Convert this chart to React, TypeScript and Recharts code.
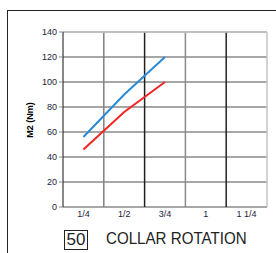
import React from 'react';
import { LineChart, Line, XAxis, YAxis, CartesianGrid, ReferenceLine } from 'recharts';

// collar rotation categories (turns)
const categories = ['1/4', '1/2', '3/4', '1', '1 1/4'];
const blueValues = [56, 90, 120];
const redValues = [46, 76, 100];
const yTicks = [0, 20, 40, 60, 80, 100, 120, 140];

// points sit in the middle of each band, gridlines on the band edges
const data = blueValues.map((b, i) => ({ x: i + 0.5, blue: b, red: redValues[i] }));
const bandEdges = categories.map((_, i) => i + 1);
const bandMiddles = categories.map((_, i) => i + 0.5);
const edgeColors = ['#808080', '#222222', '#8a8a8a', '#222222', '#c4c4c4'];

const tickStyle = { fontSize: 9, fill: '#1c1c3c', fontFamily: 'Arial, Liberation Sans, sans-serif' };

export default function App() {
  return (
    <div style={{ position: 'absolute', left: 0, top: 0, width: 276, height: 253, background: '#fff', overflow: 'hidden' }}>
      <div style={{ position: 'absolute', left: 7, top: 10, width: 276, height: 1, background: '#222' }} />
      <div style={{ position: 'absolute', left: 7, top: 10, width: 1, height: 260, background: '#222' }} />
      <LineChart
        width={276}
        height={253}
        data={data}
        margin={{ top: 32, right: 9, left: 33, bottom: 26 }}
      >
        <CartesianGrid vertical={false} stroke="#8a8a8a" strokeWidth={1.5} />
        <XAxis
          type="number"
          dataKey="x"
          domain={[0, categories.length]}
          ticks={[0, ...bandEdges]}
          tick={false}
          tickSize={4}
          axisLine={{ stroke: '#111' }}
          tickLine={{ stroke: '#111' }}
          height={0}
          allowDataOverflow
        />
        <XAxis
          xAxisId="labels"
          type="number"
          dataKey="x"
          domain={[0, categories.length]}
          ticks={bandMiddles}
          tickFormatter={(v: number) => categories[Math.floor(v)]}
          tick={tickStyle}
          axisLine={false}
          tickLine={false}
          tickMargin={-2}
          height={20}
          orientation="bottom"
        />
        <YAxis
          domain={[0, 140]}
          ticks={yTicks}
          tick={tickStyle}
          tickSize={4}
          width={30}
          axisLine={{ stroke: '#111' }}
          tickLine={{ stroke: '#888' }}
          interval={0}
        />
        {bandEdges.map((e, i) => (
          <ReferenceLine key={e} x={e} stroke={edgeColors[i]} strokeWidth={1.5} />
        ))}
        <ReferenceLine y={140} stroke="#c8c8c8" strokeWidth={1.5} />
        <Line dataKey="blue" stroke="#2a8ad6" strokeWidth={2} dot={false} isAnimationActive={false} />
        <Line dataKey="red" stroke="#f52424" strokeWidth={2} dot={false} isAnimationActive={false} />
      </LineChart>
      <div
        style={{
          position: 'absolute',
          left: 30,
          top: 120,
          transform: 'translate(-50%, -50%) rotate(-90deg)',
          fontFamily: 'Arial, Liberation Sans, sans-serif',
          fontSize: 9,
          fontWeight: 'bold',
          whiteSpace: 'nowrap',
          color: '#000',
        }}
      >
        M2 (Nm)
      </div>
      <div
        style={{
          position: 'absolute',
          left: 64,
          top: 230,
          width: 22,
          height: 18,
          border: '1px solid #222',
          fontFamily: 'Arial, Liberation Sans, sans-serif',
          fontSize: 17,
          lineHeight: '18px',
          textAlign: 'center',
          color: '#222',
        }}
      >
        50
      </div>
      <div
        style={{
          position: 'absolute',
          left: 106,
          top: 229,
          fontFamily: 'Arial, Liberation Sans, sans-serif',
          fontSize: 17,
          lineHeight: '20px',
          whiteSpace: 'nowrap',
          color: '#222',
          transform: 'scaleX(0.89)',
          transformOrigin: 'left center',
        }}
      >
        COLLAR ROTATION
      </div>
    </div>
  );
}
